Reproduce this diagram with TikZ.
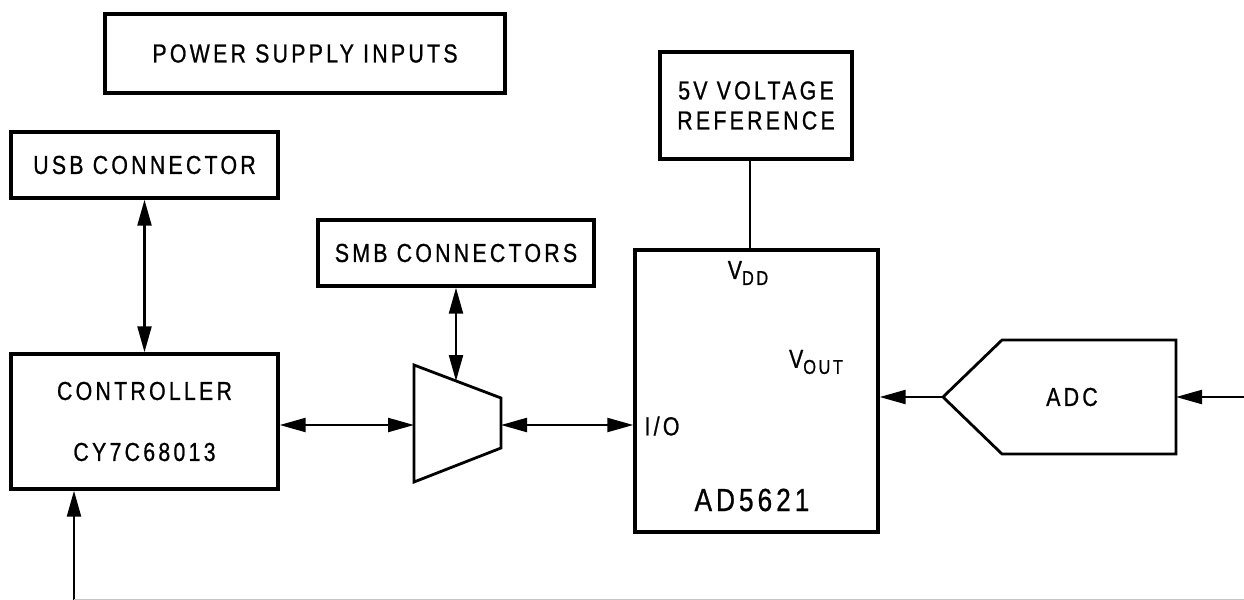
\documentclass[tikz,border=0pt]{standalone}
\usepackage{fontspec}
\setmainfont{Liberation Sans}[FakeStretch=0.82,LetterSpace=12.5,FakeBold=0.8]
\usetikzlibrary{arrows.meta}
\newcommand{\lowsub}[1]{\raisebox{-3pt}{\fontsize{10}{12}\selectfont #1}}

\begin{document}
\begin{tikzpicture}[x=0.5pt, y=-0.5pt,
	every node/.style={font=\fontsize{13}{15}\selectfont},
	blockbox/.style={draw, line width=1.7pt, align=center, inner sep=0pt},
	wire/.style={line width=1.1pt},
	onearrow/.style={wire, -{Triangle[length=13pt,width=7pt]}},
	twoarrow/.style={wire, {Triangle[length=13pt,width=7pt]}-{Triangle[length=13pt,width=7pt]}}
	]
	\useasboundingbox (0,0) rectangle (1244,600);
	
	% Boxes
	\node[blockbox, minimum width=200pt, minimum height=39.5pt] (psi) at (305,53.5)
	{POWER SUPPLY INPUTS};
	
	\node[blockbox, minimum width=133.5pt, minimum height=33pt] (usb) at (144.5,165)
	{USB CONNECTOR};
	
	\node[blockbox, minimum width=133.5pt, minimum height=67.5pt,
	font=\fontsize{13}{30.5}\selectfont] (ctrl) at (144.5,421.5)
	{CONTROLLER\\CY7C68013};
	
	\node[blockbox, minimum width=138pt, minimum height=33pt] (smb) at (456,253)
	{SMB CONNECTORS};
	
	\node[blockbox, minimum width=96pt, minimum height=53.5pt] (vref) at (756,105.5)
	{5V VOLTAGE\\REFERENCE};
	
	\node[blockbox, minimum width=121.5pt, minimum height=141pt] (dac) at (756.5,391) {};
	
	% Pin labels of the DAC
	\node (vdd) at (748,273) {V\lowsub{DD}};
	\node (vout) at (816,362) {V\lowsub{OUT}};
	\node (io) at (662,426) {I/O};
	\node[font=\fontsize{16}{18}\selectfont] (dacname) at (752,500) {AD5621};
	
	% Multiplexer
	\draw[line width=1.4pt] (414,365) -- (501,398) -- (501,448) -- (414,482) -- cycle;
	\coordinate (muxin) at (414,425);
	\coordinate (muxout) at (501,425);
	\coordinate (muxtop) at (456,381);
	
	% ADC
	\draw[line width=1.4pt] (943,397) -- (1002,340) -- (1176,340) -- (1176,454) -- (1002,454) -- cycle;
	\coordinate (adctip) at (943,397);
	\coordinate (adcback) at (1176,397);
	\coordinate (adcfeed) at (1244,397);
	\node (adc) at (1072,397) {ADC};
	
	% Connections
	\draw[twoarrow] (usb.south) -- (ctrl.north);
	\draw[twoarrow] (smb.south) -- (muxtop);
	\draw[twoarrow] (ctrl.east |- muxin) -- (muxin);
	\draw[twoarrow] (muxout) -- (muxout -| dac.west);
	\draw[wire, line width=1.4pt] ([xshift=-3pt]vref.south) -- ([xshift=-3pt]vref.south |- dac.north);
	\draw[onearrow] (adctip) -- (adctip -| dac.east);
	\draw[onearrow] (adcfeed) -- (adcback);
	
	% Feedback line at the bottom
	\coordinate (feed) at (74,600);
	\coordinate (feedend) at (1244,599.5);
	\draw[onearrow] (feed) -- (feed |- ctrl.south);
	\draw[gray!45, line width=1pt] (74,599.5) -- (feedend);
\end{tikzpicture}
\end{document}
